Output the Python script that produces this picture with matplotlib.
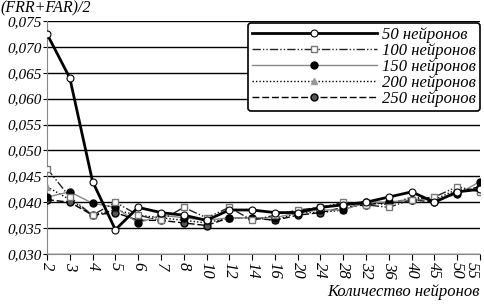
import matplotlib
matplotlib.use('Agg')
import matplotlib.pyplot as plt
import numpy as np

cats = ['2', '3', '4', '5', '6', '7', '8', '10', '12', '14', '16', '20',
        '24', '28', '32', '36', '40', '45', '50', '55']

s50 = [0.0725, 0.064, 0.044, 0.0347, 0.039, 0.038, 0.0375, 0.0365, 0.0385, 0.0385,
       0.038, 0.038, 0.039, 0.0395, 0.040, 0.041, 0.042, 0.040, 0.042, 0.0425]
s100 = [0.0465, 0.041, 0.0375, 0.040, 0.0375, 0.0365, 0.039, 0.037, 0.039, 0.0365,
        0.0375, 0.0385, 0.039, 0.040, 0.0395, 0.039, 0.0405, 0.041, 0.043, 0.042]
s150 = [0.041, 0.042, 0.0398, 0.039, 0.036, 0.0375, 0.037, 0.0365, 0.037, 0.037,
        0.037, 0.038, 0.0385, 0.0385, 0.040, 0.040, 0.0405, 0.0405, 0.0415, 0.044]
s200 = [0.043, 0.0405, 0.0375, 0.0385, 0.0375, 0.037, 0.0365, 0.036, 0.037, 0.037,
        0.0365, 0.038, 0.038, 0.0385, 0.040, 0.0395, 0.041, 0.0405, 0.0425, 0.0425]
s250 = [0.0405, 0.040, 0.0375, 0.038, 0.0365, 0.0365, 0.036, 0.0355, 0.037, 0.037,
        0.0365, 0.0375, 0.038, 0.039, 0.0395, 0.040, 0.0405, 0.040, 0.042, 0.043]

yticks = [0.030, 0.035, 0.040, 0.045, 0.050, 0.055, 0.060, 0.065, 0.070, 0.075]

plt.rcParams['font.family'] = ['Liberation Serif', 'DejaVu Serif']
plt.rcParams['font.style'] = 'italic'

fig = plt.figure(figsize=(4.85, 3.05), dpi=100, facecolor='w')
ax = fig.add_axes([47 / 485, 1 - 254 / 305, 433 / 485, 233 / 305])

x = np.arange(len(cats))
ax.plot(x, s50, color='black', lw=2, marker='o', ms=5, mfc='white', mec='black',
        mew=0.8, label='50 нейронов', zorder=6)
ax.plot(x, s100, color='#222222', lw=1, ls=(0, (6, 1.5, 1, 1.5, 1, 1.5)), marker='s',
        ms=5, mfc='white', mec='#777777', label='100 нейронов', zorder=5)
ax.plot(x, s150, color='#888888', lw=1, marker='o', ms=5, mfc='black', mec='black',
        label='150 нейронов', zorder=4)
ax.plot(x, s200, color='black', lw=1, ls=(0, (1, 1.5)), marker='^', ms=5,
        mfc='#999999', mec='#999999', label='200 нейронов', zorder=3)
ax.plot(x, s250, color='black', lw=1, ls=(0, (5, 2)), marker='o', ms=5,
        mfc='#555555', mec='black', label='250 нейронов', zorder=3)

ax.set_xlim(0, len(cats) - 1)
ax.set_ylim(0.030, 0.075)
ax.set_yticks(yticks)
ax.set_yticklabels([('%.3f' % v).replace('.', ',') for v in yticks], fontsize=11)
ax.set_xticks(x)
ax.set_xticklabels(cats, rotation=-90, fontsize=12)
ax.yaxis.grid(True, color='black', lw=1)
ax.set_axisbelow(True)
for side in ['top', 'right']:
    ax.spines[side].set_visible(False)
ax.spines['left'].set_color('#888888')
ax.spines['bottom'].set_color('#888888')
ax.tick_params(axis='x', direction='out', length=4, color='black', pad=2)
ax.tick_params(axis='y', direction='out', length=3, color='black', pad=1)
ax.get_xticklabels()[-1].set_horizontalalignment('right')

fig.text(0.0, 1.0, '(FRR+FAR)/2', fontsize=11.5, ha='left', va='top')
fig.text(1 - 5 / 485, 1 - 292 / 305, 'Количество нейронов', fontsize=12,
         ha='right', va='center')

leg = ax.legend(loc='upper right', bbox_to_anchor=(1.0, 1 - 2 / 233), fontsize=12,
                handlelength=7.5, handletextpad=0.3, labelspacing=0.0,
                borderpad=0.25, borderaxespad=0, fancybox=True, framealpha=1,
                edgecolor='black')
leg.get_frame().set_linewidth(1.2)

fig.savefig('out.png', dpi=100)
